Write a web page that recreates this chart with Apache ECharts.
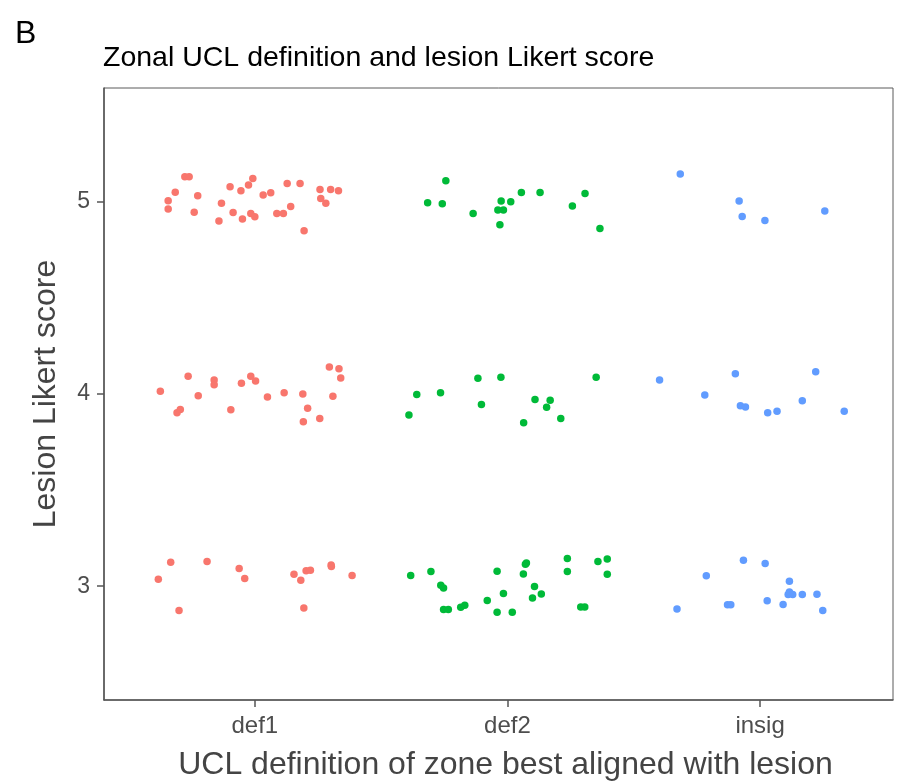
<!DOCTYPE html>
<html>
<head>
<meta charset="utf-8">
<script src="https://cdn.jsdelivr.net/npm/echarts@6/dist/echarts.min.js"></script>
<style>
  html, body { margin: 0; padding: 0; background: #fff; }
  #chart { width: 898px; height: 781px; }
</style>
</head>
<body>
<div id="chart"></div>
<script>
// UCL zone definitions on the x axis (positions 1, 2, 3)
const categories = ['def1', 'def2', 'insig'];
const yTicks = [3, 4, 5];

// Jittered points: [x position, Likert score] for each zone group
const def1Points = [
  // score 5
  [0.723, 5.130], [0.740, 5.130], [0.685, 5.050], [0.657, 5.005], [0.657, 4.962],
  [0.774, 5.031], [0.760, 4.946], [0.902, 5.078], [0.868, 4.993], [0.858, 4.900],
  [0.945, 5.057], [0.914, 4.944], [0.951, 4.910], [0.975, 5.087], [0.992, 5.121],
  [0.984, 4.939], [1.000, 4.922], [1.033, 5.035], [1.063, 5.047], [1.087, 4.939],
  [1.113, 4.939], [1.142, 4.976], [1.128, 5.095], [1.179, 5.095], [1.195, 4.849],
  [1.258, 5.064], [1.261, 5.017], [1.281, 4.993], [1.300, 5.064], [1.331, 5.057],
  // score 4
  [0.626, 4.014], [0.736, 4.092], [0.692, 3.903], [0.705, 3.920], [0.776, 3.991],
  [0.839, 4.073], [0.839, 4.048], [0.905, 3.918], [0.947, 4.056], [0.984, 4.092],
  [1.003, 4.068], [1.050, 3.984], [1.116, 4.007], [1.190, 4.000], [1.209, 3.926],
  [1.192, 3.856], [1.257, 3.872], [1.295, 4.140], [1.333, 4.131], [1.340, 4.083],
  [1.309, 3.988],
  // score 3
  [0.618, 3.036], [0.667, 3.125], [0.700, 2.874], [0.811, 3.128], [0.938, 3.092],
  [0.960, 3.040], [1.155, 3.062], [1.182, 3.031], [1.203, 3.080], [1.220, 3.083],
  [1.302, 3.111], [1.303, 3.102], [1.194, 2.887], [1.385, 3.056]
];

const def2Points = [
  // score 5
  [1.756, 5.109], [1.684, 4.995], [1.742, 4.990], [1.864, 4.939], [1.975, 5.004],
  [1.962, 4.957], [1.984, 4.957], [1.970, 4.881], [2.013, 5.000], [2.055, 5.048],
  [2.129, 5.048], [2.257, 4.978], [2.307, 5.043], [2.366, 4.861],
  // score 4
  [1.610, 3.891], [1.641, 3.998], [1.735, 4.007], [1.883, 4.082], [1.897, 3.946],
  [1.974, 4.087], [2.064, 3.851], [2.109, 3.972], [2.169, 3.967], [2.155, 3.931],
  [2.211, 3.872], [2.351, 4.087],
  // score 3
  [1.617, 3.056], [1.697, 3.076], [1.736, 3.005], [1.747, 2.991], [1.747, 2.879],
  [1.766, 2.879], [1.815, 2.891], [1.831, 2.901], [1.920, 2.926], [1.959, 2.865],
  [1.959, 3.078], [1.984, 2.962], [2.019, 2.865], [2.071, 3.114], [2.075, 3.121],
  [2.063, 3.064], [2.107, 2.998], [2.099, 2.939], [2.134, 2.960], [2.237, 3.144],
  [2.237, 3.076], [2.290, 2.892], [2.306, 2.892], [2.358, 3.128], [2.395, 3.142],
  [2.395, 3.062]
];

const insigPoints = [
  // score 5
  [2.684, 5.144], [2.917, 5.004], [2.929, 4.924], [3.019, 4.903], [3.256, 4.952],
  // score 4
  [2.602, 4.073], [2.902, 4.105], [2.781, 3.995], [2.922, 3.939], [2.942, 3.932],
  [3.030, 3.903], [3.067, 3.910], [3.167, 3.965], [3.220, 4.116], [3.333, 3.910],
  // score 3
  [2.671, 2.881], [2.787, 3.054], [2.871, 2.903], [2.884, 2.903], [2.934, 3.135],
  [3.020, 3.118], [3.028, 2.924], [3.091, 2.905], [3.116, 3.026], [3.116, 2.970],
  [3.111, 2.957], [3.129, 2.957], [3.167, 2.957], [3.225, 2.958], [3.248, 2.874]
];

const groupColors = ['#F8766D', '#00BA38', '#619CFF'];
const groups = [def1Points, def2Points, insigPoints];

const FONT = 'Liberation Sans, Arial, Helvetica, sans-serif';
const chart = echarts.init(document.getElementById('chart'), null, { renderer: 'canvas' });

chart.setOption({
  animation: false,
  backgroundColor: '#ffffff',
  title: [
    {
      text: 'B',
      left: 10,
      top: 13,
      textStyle: { fontFamily: FONT, fontSize: 32, fontWeight: 'normal', color: '#000' }
    },
    {
      text: 'Zonal UCL definition and lesion Likert score',
      left: 98,
      top: 39,
      textStyle: { fontFamily: FONT, fontSize: 28.5, fontWeight: 'normal', color: '#000' }
    }
  ],
  grid: {
    left: 104,
    right: 5,
    top: 88,
    bottom: 81,
    outerBoundsMode: 'none',
    containLabel: false,
    show: true,
    borderColor: '#5a5a5a',
    borderWidth: 1,
    backgroundColor: 'transparent'
  },
  xAxis: {
    type: 'value',
    min: 0.403,
    max: 3.526,
    name: 'UCL definition of zone best aligned with lesion',
    nameLocation: 'middle',
    nameGap: 49,
    nameTextStyle: { fontFamily: FONT, fontSize: 32, color: '#444', padding: [0, 0, 0, 14] },
    splitLine: { show: false },
    axisLine: { show: true, lineStyle: { color: '#555', width: 1.5 } },
    axisTick: { show: true, length: 7, lineStyle: { color: '#555', width: 1.5 }, customValues: [1, 2, 3] },
    axisLabel: {
      customValues: [1, 2, 3],
      formatter: v => categories[Math.round(v) - 1],
      fontFamily: FONT,
      fontSize: 24,
      color: '#4d4d4d',
      margin: 14
    }
  },
  yAxis: {
    type: 'value',
    min: 2.408,
    max: 5.592,
    name: 'Lesion Likert score',
    nameLocation: 'middle',
    nameGap: 42,
    nameRotate: 90,
    nameTextStyle: { fontFamily: FONT, fontSize: 32, color: '#444' },
    splitLine: { show: false },
    axisLine: { show: true, lineStyle: { color: '#555', width: 1.5 } },
    axisTick: { show: true, length: 7, lineStyle: { color: '#555', width: 1.5 }, customValues: yTicks },
    axisLabel: {
      customValues: yTicks,
      fontFamily: FONT,
      fontSize: 23,
      color: '#4d4d4d',
      margin: 14
    }
  },
  series: groups.map((pts, i) => ({
    type: 'scatter',
    name: categories[i],
    data: pts,
    symbol: 'circle',
    symbolSize: 7.5,
    itemStyle: { color: groupColors[i], opacity: 1 },
    emphasis: { disabled: true }
  }))
});
</script>
</body>
</html>
